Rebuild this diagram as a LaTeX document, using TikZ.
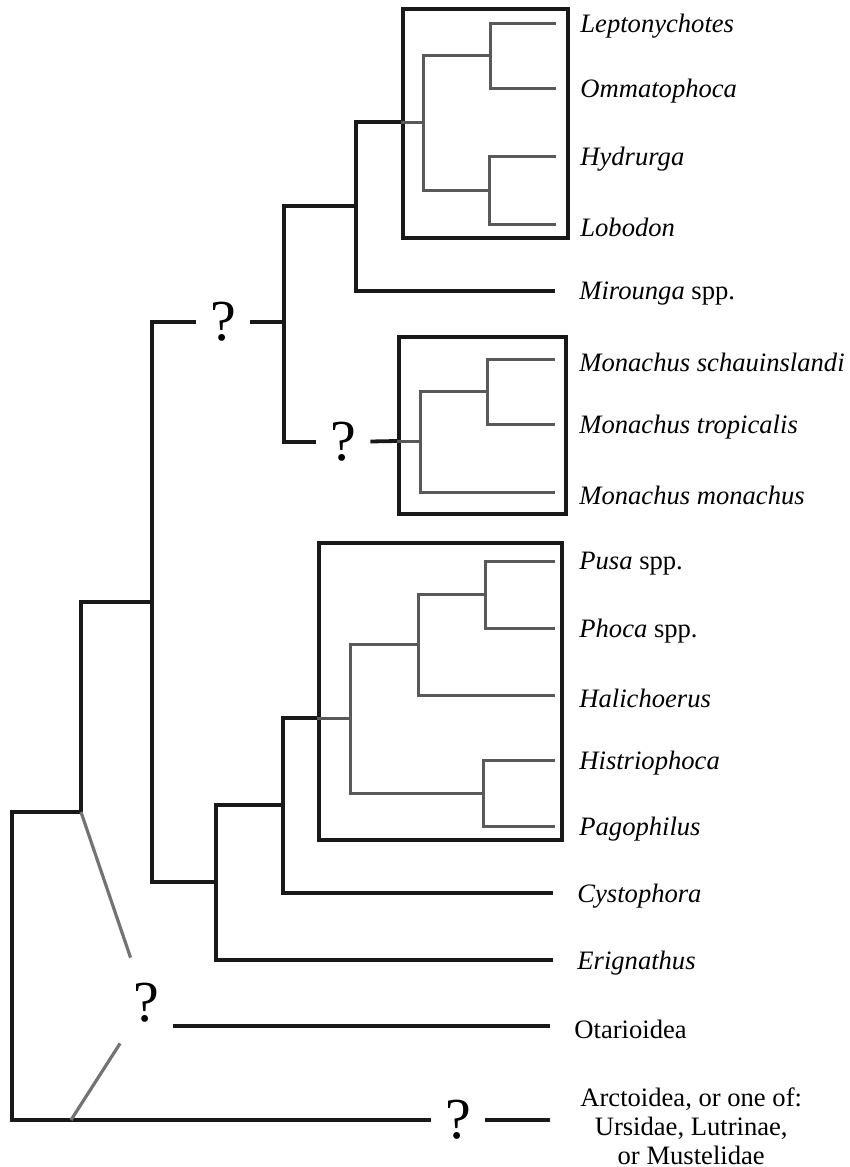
\documentclass[tikz,border=0pt]{standalone}
\usepackage{fontspec}
\setmainfont{Liberation Serif}
\usetikzlibrary{positioning}
\begin{document}
\begin{tikzpicture}
[x=0.5pt,y=-0.5pt,
  treeline/.style={draw=black!90,line width=1.9pt},%
  innerline/.style={draw=black!65,line width=1.5pt},
  linkline/.style={draw=black!55,line width=1.6pt,shorten >=24pt},
  cladebox/.style={draw=black!90,line width=2pt,inner sep=0pt},
  taxon/.style={font=\fontsize{13.3}{14.5}\selectfont\itshape,inner sep=0pt,anchor=west},
  group/.style={font=\fontsize{13.3}{14.5}\selectfont,inner sep=0pt,anchor=west,align=center},
  qmark/.style={font=\fontsize{29}{29}\selectfont,inner sep=0pt,minimum width=27pt,minimum height=30pt}]
\useasboundingbox (0,0) rectangle (850,1167);
%% leaves and their names
\foreach \nodename/\x/\y/\taxonname in {
  lepto/556/23/Leptonychotes, ommato/556/88/Ommatophoca, hydr/556/156/Hydrurga,
  lobo/556/224/Lobodon, mir/555/291/{Mirounga \upshape spp.},
  msch/555/359/{Monachus schauinslandi}, mtrop/555/424/{Monachus tropicalis},
  mmon/555/492/{Monachus monachus}, pusa/555/561/{Pusa \upshape spp.},
  phoca/555/628/{Phoca \upshape spp.}, hali/555/695/Halichoerus,
  histr/555/760/Histriophoca, pago/555/826/Pagophilus, cysto/553/893/Cystophora,
  erig/553/960/Erignathus, otar/550/1026/{\upshape Otarioidea}} {
  \coordinate (\nodename) at (\x,\y);
  \node (\nodename-l) [taxon] at ([xshift=12pt,yshift=-1.5pt]\nodename) {\taxonname};
}
\coordinate (arct) at (550,1120);
\node (arct-l) [group] at ([xshift=15pt,yshift=-3pt]arct) {Arctoidea, or one of:\\Ursidae, Lutrinae,\\or Mustelidae};
%% branching points
\foreach \nodename/\x/\y in {
  a1/490/55, a2/489/190, a3/423/122, a4/356/206, a5/284/322,
  b1/487/391, b2/420/441, c1/485/594, c2/418/644, c3/483/793,
  c4/350/718, c5/283/805, c6/216/882, r1/152/602, k1/81/812,
  root/12/1120, k2/71/1120}
  \coordinate (\nodename) at (\x,\y);
%% question marks
\foreach \nodename/\x/\y in {q1/223/322, q2/343/442, qo/146/1003, qa/458/1120}
  \node (\nodename) [qmark] at (\x,\y) {?};
%% boxes
\foreach \boxname/\cx/\cy/\w/\h in {
  lobobox/485.5/123.5/82.5/114.5, monbox/482.5/425.5/83.5/88.5,
  phobox/440.5/691.5/121.5/148.5}
  \node (\boxname) [cladebox,minimum width=\w pt,minimum height=\h pt] at (\cx,\cy) {};
%% branches inside the boxes
\foreach \upper/\fork/\lower in {
  lepto/a1/ommato, hydr/a2/lobo, a1/a3/a2, msch/b1/mtrop, b1/b2/mmon,
  pusa/c1/phoca, c1/c2/hali, histr/c3/pago, c2/c4/c3}
  \draw[innerline] (\upper) -| (\fork) |- (\lower);
\foreach \fork/\boxname in {a3/lobobox, b2/monbox, c4/phobox}
  \draw[innerline] (\fork) -- (\fork -| \boxname.west);
%% branches outside the boxes
\draw[treeline] (a3 -| lobobox.west) -| (a4) |- (mir);
\draw[treeline] (a4) -| (a5) |- (q2);
\draw[treeline] (q2) -- (b2 -| monbox.west);
\draw[treeline] (q1) -- (a5);
\draw[treeline] (q1) -| (r1) |- (c6);
\draw[treeline] (c4 -| phobox.west) -| (c5) |- (cysto);
\draw[treeline] (c5) -| (c6) |- (erig);
\draw[treeline] (r1) -| (k1) -| (root) -- (qa);
\draw[treeline] (qa) -- (arct);
\draw[treeline] (qo.east |- otar) -- (otar);
%% uncertain place of Otarioidea
\draw[linkline] (k1) -- (qo.center);
\draw[linkline] (k2) -- (qo.center);
\end{tikzpicture}
\end{document}
